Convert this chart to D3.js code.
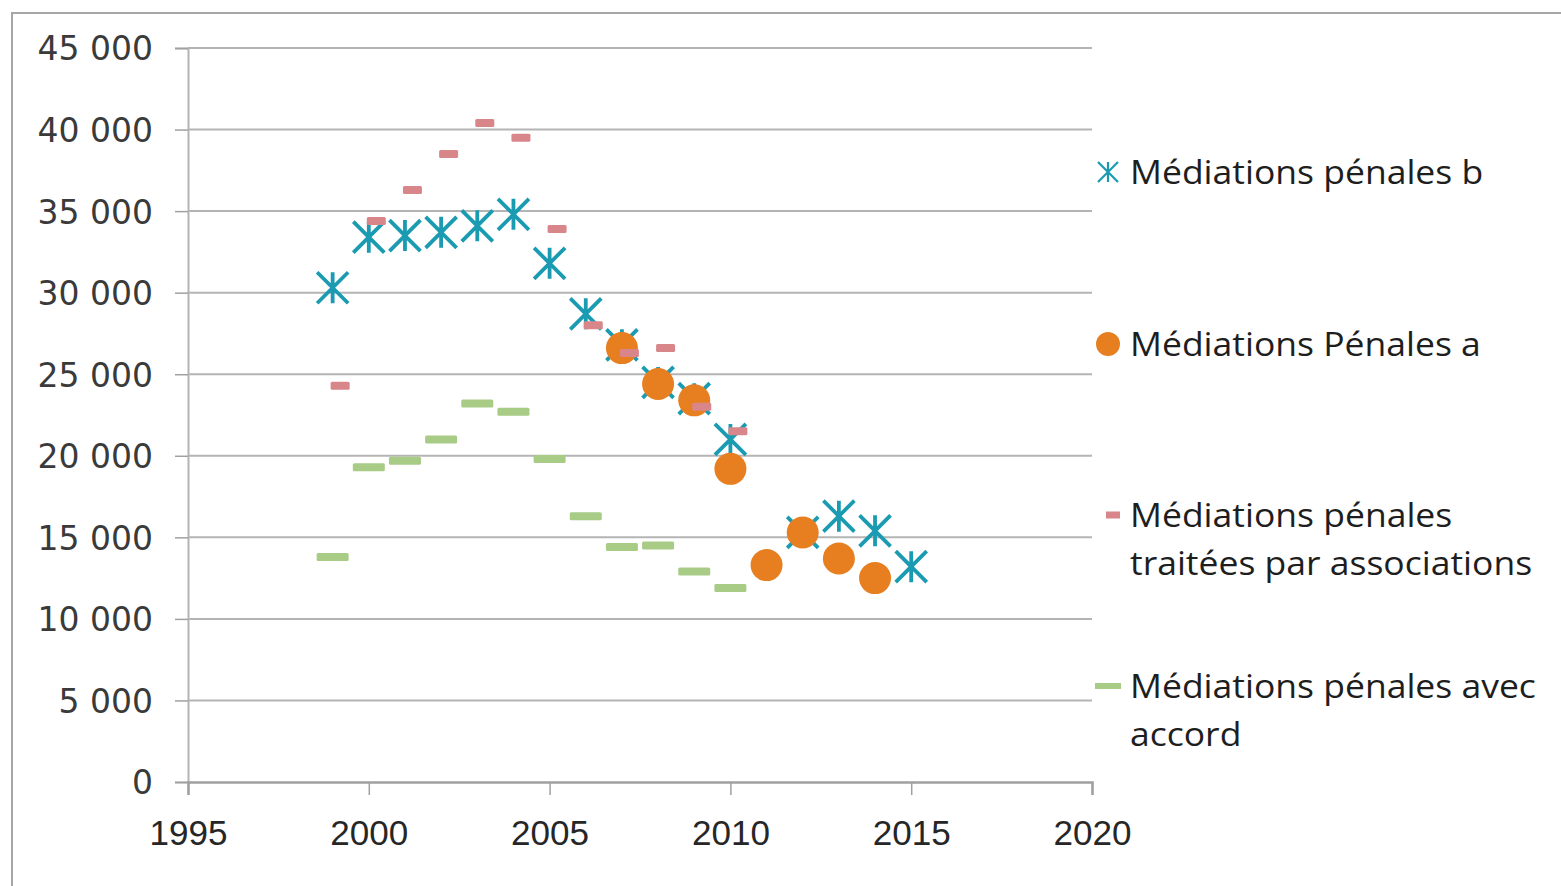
<!DOCTYPE html>
<html>
<head>
<meta charset="utf-8">
<style>
  body { margin: 0; background: #fff; }
  svg { display: block; }
</style>
</head>
<body>
<svg width="1561" height="886"></svg>
<script src="https://d3js.org/d3.v7.min.js"></script>
<script>
// values
var years = [1999, 2000, 2001, 2002, 2003, 2004, 2005, 2006, 2007, 2008, 2009, 2010, 2011, 2012, 2013, 2014, 2015];
var medB = [30300, 33400, 33500, 33700, 34100, 34800, 31800, 28700, 26800, 24500, 23500, 21000, null, 15300, 16300, 15400, 13200];
var medA = [null, null, null, null, null, null, null, null, 26600, 24400, 23400, 19200, 13300, 15300, 13700, 12500, null];
var medAssoc = [24300, 34400, 36300, 38500, 40400, 39500, 33900, 28000, 26300, 26600, 23000, 21500, null, null, null, null, null];
var medAccord = [13800, 19300, 19700, 21000, 23200, 22700, 19800, 16300, 14400, 14500, 12900, 11900, null, null, null, null, null];
var yTicks = [0, 5000, 10000, 15000, 20000, 25000, 30000, 35000, 40000, 45000];
var xTicks = [1995, 2000, 2005, 2010, 2015, 2020];
var legendLabels = [
  ["Médiations pénales b"],
  ["Médiations Pénales a"],
  ["Médiations pénales", "traitées par associations"],
  ["Médiations pénales avec", "accord"]
];

var teal = "#1a9bb2", orange = "#e77f21", pink = "#d8868a", green = "#a8cb86";

var svg = d3.select("svg");

// outer frame (right/bottom edges fall outside the picture)
svg.append("rect").attr("x", 12).attr("y", 13).attr("width", 1570).attr("height", 900)
  .attr("fill", "none").attr("stroke", "#a6a6a6").attr("stroke-width", 2);

var x = d3.scaleLinear().domain([1995, 2020]).range([188, 1092]);
var y = d3.scaleLinear().domain([0, 45000]).range([782, 48]);

// gridlines
svg.append("g").selectAll("line").data(yTicks.filter(function(d) { return d > 0; })).join("line")
  .attr("x1", x(1995)).attr("x2", x(2020))
  .attr("y1", function(d) { return y(d); }).attr("y2", function(d) { return y(d); })
  .attr("stroke", "#b4b4b4").attr("stroke-width", 2);

var fmt = function(d) { return d3.format(",")(d).replace(/,/g, " "); };

var yAxis = svg.append("g").attr("transform", "translate(" + x(1995) + ",0)")
  .call(d3.axisLeft(y).tickValues(yTicks).tickSize(13).tickPadding(22).tickFormat(fmt));
yAxis.select(".domain").attr("stroke", "#b4b4b4").attr("stroke-width", 2);
yAxis.selectAll(".tick line").attr("stroke", "#a0a0a0").attr("stroke-width", 1.5);
yAxis.selectAll(".tick text").attr("font-family", "DejaVu Sans").attr("font-size", 33)
  .attr("fill", "#3a3a3a").attr("dy", "0.36em");

var xAxis = svg.append("g").attr("transform", "translate(0," + y(0) + ")")
  .call(d3.axisBottom(x).tickValues(xTicks).tickSize(13).tickPadding(25).tickFormat(d3.format("d")));
xAxis.select(".domain").attr("stroke", "#a0a0a0").attr("stroke-width", 2.5);
xAxis.selectAll(".tick line").attr("stroke", "#a0a0a0").attr("stroke-width", 1.5);
xAxis.selectAll(".tick text").attr("font-family", "Liberation Sans").attr("font-size", 35)
  .attr("fill", "#262626").attr("textLength", 78).attr("lengthAdjust", "spacingAndGlyphs");

function pts(vals) {
  return years.map(function(yr, i) { return {year: yr, v: vals[i]}; })
    .filter(function(d) { return d.v !== null; });
}

function asterisk(sel, s, w) {
  sel.append("path")
    .attr("d", "M0," + (-s) + "V" + s + "M" + (-s) + "," + (-s) + "L" + s + "," + s + "M" + s + "," + (-s) + "L" + (-s) + "," + s)
    .attr("stroke", teal).attr("stroke-width", w).attr("fill", "none");
}

// Médiations pénales b (asterisks)
svg.append("g").selectAll("g").data(pts(medB)).join("g")
  .attr("transform", function(d) { return "translate(" + x(d.year) + "," + y(d.v) + ")"; })
  .each(function() { asterisk(d3.select(this), 15.5, 3.8); });

// Médiations Pénales a (circles)
svg.append("g").selectAll("circle").data(pts(medA)).join("circle")
  .attr("cx", function(d) { return x(d.year); }).attr("cy", function(d) { return y(d.v); })
  .attr("r", 16).attr("fill", orange);

// traitées par associations (short dashes)
svg.append("g").selectAll("rect").data(pts(medAssoc)).join("rect")
  .attr("x", function(d) { return x(d.year) - 2; }).attr("y", function(d) { return y(d.v) - 4; })
  .attr("width", 19).attr("height", 8).attr("rx", 1.5).attr("fill", pink);

// avec accord (long dashes)
svg.append("g").selectAll("rect").data(pts(medAccord)).join("rect")
  .attr("x", function(d) { return x(d.year) - 16; }).attr("y", function(d) { return y(d.v) - 4; })
  .attr("width", 32).attr("height", 8).attr("rx", 1.5).attr("fill", green);

// legend
var legendY = [172, 344, 515, 686];
var leg = svg.append("g");
legendLabels.forEach(function(lines, i) {
  var g = leg.append("g").attr("transform", "translate(1108," + legendY[i] + ")");
  if (i === 0) asterisk(g, 10, 2.2);
  if (i === 1) g.append("circle").attr("r", 12).attr("fill", orange);
  if (i === 2) g.append("rect").attr("x", -2).attr("y", -3.5).attr("width", 14).attr("height", 7).attr("fill", pink);
  if (i === 3) g.append("rect").attr("x", -13).attr("y", -3).attr("width", 26).attr("height", 6).attr("fill", green);
  g.append("g").attr("transform", "translate(22,0) scale(1.11,1)")
    .selectAll("text").data(lines).join("text")
    .attr("x", 0).attr("y", function(d, j) { return j * 48; }).attr("dy", "0.36em")
    .attr("font-family", "Open Sans").attr("font-size", 32).attr("fill", "#1e1e1e")
    .text(function(d) { return d; });
});
</script>
</body>
</html>
